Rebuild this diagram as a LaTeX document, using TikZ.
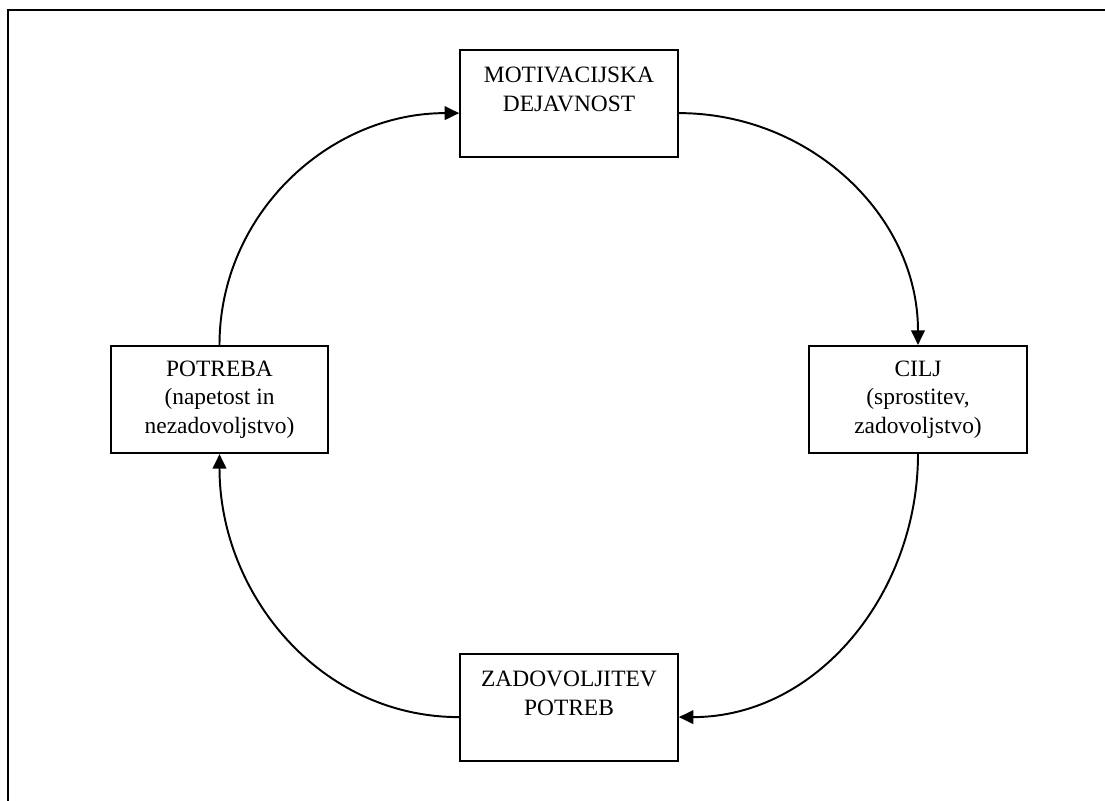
\documentclass[tikz,border=0pt]{standalone}
\usepackage{fontspec}
\setmainfont{Liberation Serif}
\usepackage{tikz}
\usetikzlibrary{arrows.meta}

\begin{document}
\begin{tikzpicture}[x=0.018cm,y=-0.018cm,line width=1pt,
  font=\fontsize{12}{14.5}\selectfont,
  box/.style={draw,rectangle,align=center,minimum width=3.92cm,minimum height=1.93cm,inner sep=2pt},
  flow/.style={-{Triangle[length=7.5pt,width=7pt]}}]
  \useasboundingbox (0,0) rectangle (1105,801);
  \draw[line width=1.1pt] (1105,10) -- (8,10) -- (8,801);
  \node[box] (mot) at (569,103.5) {MOTIVACIJSKA\\DEJAVNOST\\\mbox{}};
  \node[box] (cilj) at (918,399.5) {CILJ\\(sprostitev,\\zadovoljstvo)};
  \node[box] (zad) at (569,707.5) {ZADOVOLJITEV\\POTREB\\\mbox{}};
  \node[box] (pot) at (219.5,399.5) {POTREBA\\(napetost in\\nezadovoljstvo)};
  \draw[flow] (pot.north) to[out=90,in=180] (mot.185);
  \draw[flow] (mot.355) to[out=0,in=90] (cilj.north);
  \draw[flow] (cilj.south) to[out=-90,in=0] (zad.355);
  \draw[flow] (zad.185) to[out=180,in=-90] (pot.south);
\end{tikzpicture}
\end{document}
